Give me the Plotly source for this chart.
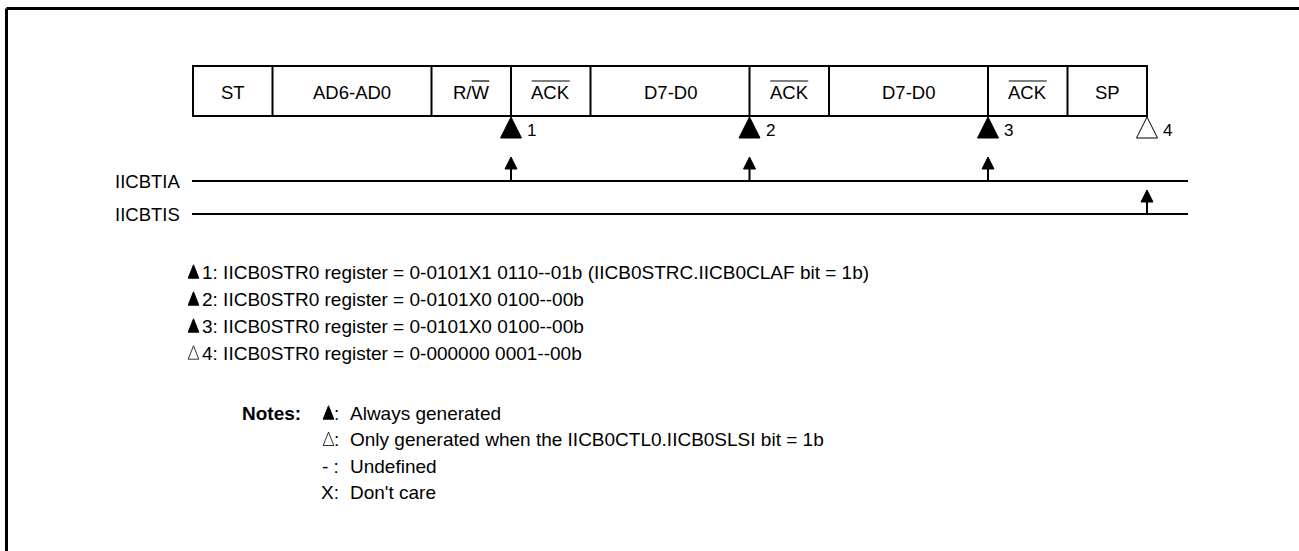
import plotly.graph_objects as go

# ---------------- data ----------------
segments = ["ST", "AD6-AD0", "R/W", "ACK", "D7-D0", "ACK", "D7-D0", "ACK", "SP"]
seg_bits = [1, 2, 1, 1, 2, 1, 2, 1, 1]
seg_overline = ["", "", "W", "ACK", "", "ACK", "", "ACK", ""]

signals = ["IICBTIA", "IICBTIS"]

event_ids = ["1", "2", "3", "4"]
event_seg_end = [2, 4, 6, 8]          # event occurs at the end of this segment
event_filled = [True, True, True, False]
event_signal = ["IICBTIA", "IICBTIA", "IICBTIA", "IICBTIS"]

register_values = [
    "0-0101X1 0110--01b (IICB0STRC.IICB0CLAF bit = 1b)",
    "0-0101X0 0100--00b",
    "0-0101X0 0100--00b",
    "0-000000 0001--00b",
]

notes_title = "Notes:"
notes_symbols = ["filled", "open", "- :", "X:"]
notes_text = [
    "Always generated",
    "Only generated when the IICB0CTL0.IICB0SLSI bit = 1b",
    "Undefined",
    "Don't care",
]

# ---------------- layout constants ----------------
W, H = 1299, 551
FONT = "Arial, 'Liberation Sans', sans-serif"
FS_LAB = 18.5
FS_TXT = 19
X0, UNIT = 193, 79.5
FR_TOP, FR_BOT = 66, 116
SIG_Y = {"IICBTIA": 181, "IICBTIS": 214}
SIG_X0, SIG_X1 = 192, 1188
REG_Y0, REG_DY = 272.5, 27
NOTE_Y0, NOTE_DY = 413.5, 26.3

# Arial advance widths (em) for overline sizing
CW = {"A": .667, "C": .722, "K": .667, "R": .722, "/": .278, "W": .944}


def tw(s):
    return sum(CW.get(c, .556) for c in s) * FS_LAB


fig = go.Figure()
shapes = []
ann = []


def line(x0, y0, x1, y1, w=2):
    shapes.append(dict(type="line", xref="x", yref="y", x0=x0, y0=y0, x1=x1, y1=y1,
                       line=dict(color="black", width=w)))


def tri(xc, ytop, ybot, half, filled, lw=1):
    path = f"M {xc},{ytop} L {xc + half},{ybot} L {xc - half},{ybot} Z"
    shapes.append(dict(type="path", xref="x", yref="y", path=path,
                       fillcolor="black" if filled else "white",
                       line=dict(color="black", width=lw)))


def text(x, y, s, xa="center", size=FS_TXT, bold=False):
    if bold:
        s = "<b>" + s + "</b>"
    ann.append(dict(x=x, y=y, xref="x", yref="y", text=s, showarrow=False,
                    xanchor=xa, yanchor="middle",
                    font=dict(family=FONT, size=size, color="black")))


# outer border (left and top edges visible)
line(6.5, 8.5, W + 5, 8.5, 3)
line(6.5, 8.5, 6.5, H + 5, 3)

# frame
bounds = [X0]
for b in seg_bits:
    bounds.append(bounds[-1] + b * UNIT)
shapes.append(dict(type="rect", xref="x", yref="y", x0=bounds[0], x1=bounds[-1],
                   y0=FR_TOP, y1=FR_BOT, line=dict(color="black", width=2)))
for bx in bounds[1:-1]:
    line(bx, FR_TOP, bx, FR_BOT)
for i, lab in enumerate(segments):
    cx = (bounds[i] + bounds[i + 1]) / 2
    text(cx, 92, lab, size=FS_LAB)
    ov = seg_overline[i]
    if ov:
        full = tw(lab)
        right = cx + full / 2
        left = right - tw(ov)
        line(left, 81, right, 81, 1.2)

# signal lines
for name in signals:
    y = SIG_Y[name]
    line(SIG_X0, y, SIG_X1, y, 2)
    text(182, y, name, xa="right", size=FS_LAB)

# events
for eid, si, filled, sig in zip(event_ids, event_seg_end, event_filled, event_signal):
    ex = bounds[si + 1]
    tri(ex, FR_BOT + 1, FR_BOT + 22, 10.5, filled)
    text(ex + 14, FR_BOT + 14, eid, xa="left", size=17)
    y = SIG_Y[sig]
    line(ex, y, ex, y - 13, 2)
    tri(ex, y - 24, y - 12, 6, True)

# register descriptions
for i, (eid, filled, val) in enumerate(zip(event_ids, event_filled, register_values)):
    y = REG_Y0 + i * REG_DY
    tri(193.5, y - 7.7, y + 5.7, 5.3, filled, 1 if filled else 0.8)
    text(199.5, y, f"{eid}: IICB0STR0 register = {val}", xa="left")

# notes
text(303, NOTE_Y0, notes_title, xa="right", bold=True)
for i, (sym, desc) in enumerate(zip(notes_symbols, notes_text)):
    y = NOTE_Y0 + i * NOTE_DY
    if sym in ("filled", "open"):
        tri(328.5, y - 7.7, y + 5.7, 5.3, sym == "filled", 1 if sym == "filled" else 0.8)
        text(341, y, ":", xa="right")
    else:
        text(341, y, sym, xa="right")
    text(347.5, y, desc, xa="left")

fig.add_trace(go.Scatter(x=[0], y=[0], mode="markers", marker=dict(opacity=0),
                         hoverinfo="skip", showlegend=False))
fig.update_layout(
    width=W, height=H, margin=dict(l=0, r=0, t=0, b=0),
    paper_bgcolor="white", plot_bgcolor="white", showlegend=False,
    xaxis=dict(range=[0, W], visible=False, fixedrange=True),
    yaxis=dict(range=[H, 0], visible=False, fixedrange=True),
    shapes=shapes, annotations=ann,
)
fig.write_html("out.html", config={"displayModeBar": False},
               post_script="document.body.style.margin='0';document.body.style.overflow='hidden';")
